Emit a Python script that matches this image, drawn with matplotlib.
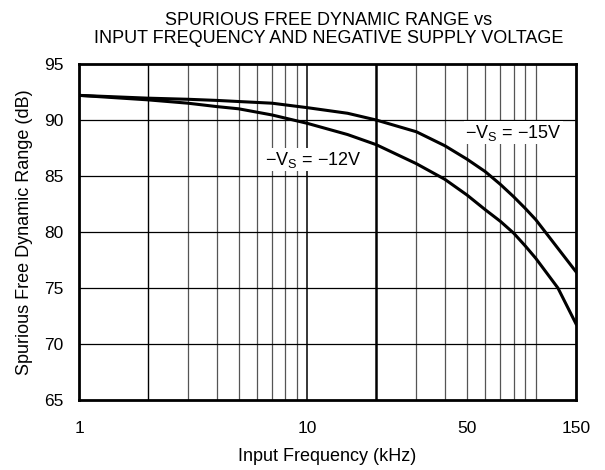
import matplotlib
matplotlib.use('Agg')
import matplotlib.pyplot as plt
import numpy as np

plt.rcParams['font.family'] = ['Liberation Sans', 'DejaVu Sans']
plt.rcParams['mathtext.fontset'] = 'custom'
plt.rcParams['mathtext.rm'] = 'Liberation Sans'

# values
freq_15v = [1, 2, 3, 4, 5, 7, 10, 15, 20, 30, 40, 50, 60, 70, 80, 90, 100, 150]
sfdr_15v = [92.2, 91.95, 91.85, 91.75, 91.65, 91.5, 91.1, 90.6, 90.0, 88.95, 87.7,
            86.5, 85.4, 84.25, 83.15, 82.1, 81.1, 76.45]
freq_12v = [1, 2, 3, 4, 5, 7, 10, 15, 20, 30, 40, 50, 60, 70, 80, 90, 100, 125, 150]
sfdr_12v = [92.2, 91.8, 91.5, 91.2, 91.0, 90.45, 89.7, 88.7, 87.8, 86.1, 84.7,
            83.3, 82.0, 80.95, 79.9, 78.75, 77.65, 75.0, 71.8]
xticks = [1, 10, 50, 150]
yticks = [65, 70, 75, 80, 85, 90, 95]

fig = plt.figure(figsize=(6.05, 4.70), dpi=100)
ax = fig.add_axes([79/605, 70/470, 497/605, 336/470])

ax.set_xscale('log')
ax.set_xlim(1, 150)
ax.set_ylim(65, 95)

# vertical grid
for f in list(range(3, 10)) + list(range(30, 101, 10)):
    ax.axvline(f, color='#555555', lw=0.9, zorder=1)
ax.axvline(2, color='black', lw=1.0, zorder=1)
ax.axvline(10, color='black', lw=1.1, zorder=1)
ax.axvline(20, color='black', lw=1.8, zorder=1)
for y in yticks[1:-1]:
    ax.axhline(y, color='black', lw=0.9, zorder=1)

ax.plot(freq_15v, sfdr_15v, color='black', lw=2.2, zorder=3)
ax.plot(freq_12v, sfdr_12v, color='black', lw=2.2, zorder=3)

ax.text(80, 88.85, '\u2212V$_\\mathrm{S}$ = \u221215V', ha='center', va='center',
        fontsize=13, bbox=dict(facecolor='white', edgecolor='none', pad=1.0), zorder=2)
ax.text(10.6, 86.45, '\u2212V$_\\mathrm{S}$ = \u221212V', ha='center', va='center',
        fontsize=13, bbox=dict(facecolor='white', edgecolor='none', pad=1.0), zorder=2)

ax.set_xticks(xticks)
ax.set_xticklabels([str(t) for t in xticks])
ax.xaxis.set_minor_locator(matplotlib.ticker.NullLocator())
ax.set_yticks(yticks)
ax.tick_params(length=0, labelsize=12.5)
ax.tick_params(axis='x', pad=15)
ax.tick_params(axis='y', pad=11)

for s in ax.spines.values():
    s.set_linewidth(2)

ax.set_xlabel('Input Frequency (kHz)', fontsize=13, labelpad=9)
ax.set_ylabel('Spurious Free Dynamic Range (dB)', fontsize=13, labelpad=8)
fig.text(0.543, 0.957, 'SPURIOUS FREE DYNAMIC RANGE vs', ha='center', va='center', fontsize=13)
fig.text(0.543, 0.918, 'INPUT FREQUENCY AND NEGATIVE SUPPLY VOLTAGE', ha='center', va='center', fontsize=13)

fig.savefig('out.png', dpi=100)
